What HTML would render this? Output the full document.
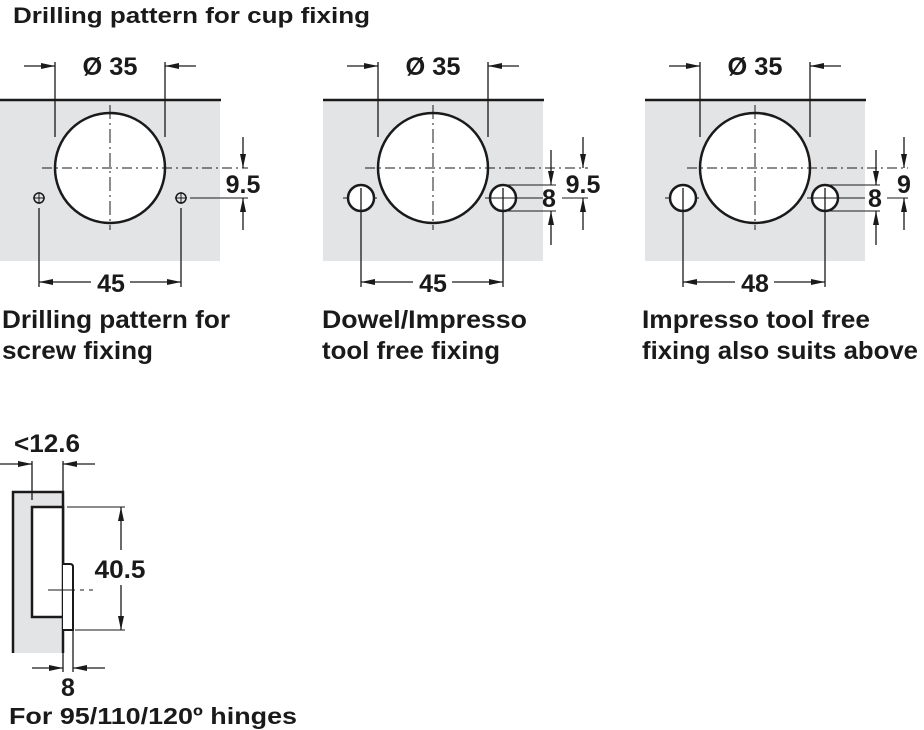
<!DOCTYPE html>
<html><head><meta charset="utf-8"><style>
html,body{margin:0;padding:0;background:#fff}
svg{display:block}
text{font-family:"Liberation Sans",Arial,sans-serif;font-weight:bold;fill:#1a1a1a}
</style></head><body>
<svg width="924" height="730" viewBox="0 0 924 730" xmlns="http://www.w3.org/2000/svg">
<defs>
<marker id="a" viewBox="0 0 14 6" refX="14" refY="3" markerWidth="14" markerHeight="6" markerUnits="userSpaceOnUse" orient="auto"><path d="M0,0 L14,3 L0,6 Z" fill="#1a1a1a"/></marker>
</defs>
<text x="13" y="23" font-size="22" textLength="357" lengthAdjust="spacingAndGlyphs">Drilling pattern for cup fixing</text>

<g stroke="#1a1a1a" fill="none">
<!-- PANEL 1 -->
<rect x="0" y="101" width="220" height="160" fill="#e3e4e6" stroke="none"/>
<line x1="0" y1="100" x2="221" y2="100" stroke-width="2.5"/>
<circle cx="110" cy="168" r="55" fill="#fff" stroke-width="2.5"/>
<line x1="55" y1="62" x2="55" y2="137" stroke-width="1.3"/>
<line x1="165" y1="62" x2="165" y2="137" stroke-width="1.3"/>
<line x1="24" y1="66" x2="55" y2="66" stroke-width="1.3" marker-end="url(#a)"/>
<line x1="196" y1="66" x2="165" y2="66" stroke-width="1.3" marker-end="url(#a)"/>
<line x1="42" y1="168" x2="248" y2="168" stroke-width="1" stroke-dasharray="10,4,2,4"/>
<line x1="110" y1="105" x2="110" y2="230" stroke-width="1" stroke-dasharray="14,4,2,4"/>
<circle cx="39" cy="198" r="5" stroke-width="1.5"/><line x1="33" y1="198" x2="45" y2="198"/><line x1="39" y1="192" x2="39" y2="204"/>
<circle cx="181" cy="198" r="5" stroke-width="1.5"/><line x1="175" y1="198" x2="187" y2="198"/><line x1="181" y1="192" x2="181" y2="204"/>
<line x1="190" y1="198" x2="248" y2="198" stroke-width="1"/>
<line x1="243" y1="137" x2="243" y2="168" stroke-width="1.3" marker-end="url(#a)"/>
<line x1="243" y1="230" x2="243" y2="198" stroke-width="1.3" marker-end="url(#a)"/>
<line x1="39" y1="208" x2="39" y2="287" stroke-width="1.3"/>
<line x1="181" y1="208" x2="181" y2="287" stroke-width="1.3"/>
<line x1="91" y1="282" x2="39" y2="282" stroke-width="1.3" marker-end="url(#a)"/>
<line x1="130" y1="282" x2="181" y2="282" stroke-width="1.3" marker-end="url(#a)"/>

<!-- PANEL 2 -->
<rect x="323" y="101" width="220" height="160" fill="#e3e4e6" stroke="none"/>
<line x1="323" y1="100" x2="544" y2="100" stroke-width="2.5"/>
<circle cx="433" cy="168" r="55" fill="#fff" stroke-width="2.5"/>
<line x1="378" y1="62" x2="378" y2="137" stroke-width="1.3"/>
<line x1="488" y1="62" x2="488" y2="137" stroke-width="1.3"/>
<line x1="347" y1="66" x2="378" y2="66" stroke-width="1.3" marker-end="url(#a)"/>
<line x1="519" y1="66" x2="488" y2="66" stroke-width="1.3" marker-end="url(#a)"/>
<line x1="365" y1="168" x2="588" y2="168" stroke-width="1" stroke-dasharray="10,4,2,4"/>
<line x1="433" y1="105" x2="433" y2="230" stroke-width="1" stroke-dasharray="14,4,2,4"/>
<line x1="343" y1="198" x2="380" y2="198" stroke-width="1" stroke-dasharray="12,4,2,4"/>
<circle cx="361" cy="198" r="13" fill="#fff" stroke-width="2.5"/>
<circle cx="503" cy="198" r="13" fill="#fff" stroke-width="2.5"/>
<line x1="485" y1="198" x2="543" y2="198" stroke-width="1"/>
<line x1="562" y1="198" x2="588" y2="198" stroke-width="1"/>
<line x1="503" y1="185" x2="556" y2="185" stroke-width="1"/>
<line x1="503" y1="211" x2="556" y2="211" stroke-width="1"/>
<line x1="551" y1="150" x2="551" y2="185" stroke-width="1.3" marker-end="url(#a)"/>
<line x1="551" y1="245" x2="551" y2="211" stroke-width="1.3" marker-end="url(#a)"/>
<line x1="583" y1="137" x2="583" y2="168" stroke-width="1.3" marker-end="url(#a)"/>
<line x1="583" y1="230" x2="583" y2="198" stroke-width="1.3" marker-end="url(#a)"/>
<line x1="361" y1="188" x2="361" y2="287" stroke-width="1.3"/>
<line x1="503" y1="188" x2="503" y2="287" stroke-width="1.3"/>
<line x1="413" y1="282" x2="361" y2="282" stroke-width="1.3" marker-end="url(#a)"/>
<line x1="452" y1="282" x2="503" y2="282" stroke-width="1.3" marker-end="url(#a)"/>

<!-- PANEL 3 -->
<rect x="645" y="101" width="220" height="160" fill="#e3e4e6" stroke="none"/>
<line x1="645" y1="100" x2="866" y2="100" stroke-width="2.5"/>
<circle cx="755" cy="168" r="55" fill="#fff" stroke-width="2.5"/>
<line x1="700" y1="62" x2="700" y2="137" stroke-width="1.3"/>
<line x1="810" y1="62" x2="810" y2="137" stroke-width="1.3"/>
<line x1="669" y1="66" x2="700" y2="66" stroke-width="1.3" marker-end="url(#a)"/>
<line x1="841" y1="66" x2="810" y2="66" stroke-width="1.3" marker-end="url(#a)"/>
<line x1="687" y1="168" x2="908" y2="168" stroke-width="1" stroke-dasharray="10,4,2,4"/>
<line x1="755" y1="105" x2="755" y2="230" stroke-width="1" stroke-dasharray="14,4,2,4"/>
<line x1="665" y1="198" x2="702" y2="198" stroke-width="1" stroke-dasharray="12,4,2,4"/>
<circle cx="683" cy="198" r="13" fill="#fff" stroke-width="2.5"/>
<circle cx="825" cy="198" r="13" fill="#fff" stroke-width="2.5"/>
<line x1="807" y1="198" x2="865" y2="198" stroke-width="1"/>
<line x1="887" y1="198" x2="908" y2="198" stroke-width="1"/>
<line x1="825" y1="185" x2="880" y2="185" stroke-width="1"/>
<line x1="825" y1="211" x2="880" y2="211" stroke-width="1"/>
<line x1="876" y1="150" x2="876" y2="185" stroke-width="1.3" marker-end="url(#a)"/>
<line x1="876" y1="245" x2="876" y2="211" stroke-width="1.3" marker-end="url(#a)"/>
<line x1="904" y1="137" x2="904" y2="168" stroke-width="1.3" marker-end="url(#a)"/>
<line x1="904" y1="230" x2="904" y2="198" stroke-width="1.3" marker-end="url(#a)"/>
<line x1="683" y1="188" x2="683" y2="287" stroke-width="1.3"/>
<line x1="825" y1="188" x2="825" y2="287" stroke-width="1.3"/>
<line x1="735" y1="282" x2="683" y2="282" stroke-width="1.3" marker-end="url(#a)"/>
<line x1="774" y1="282" x2="825" y2="282" stroke-width="1.3" marker-end="url(#a)"/>

<!-- BOTTOM -->
<rect x="13" y="492" width="50" height="161" fill="#e3e4e6" stroke="none"/>
<polyline points="13,653 13,492 63,492 63,653" stroke-width="2.5"/>
<rect x="32" y="507" width="31" height="110" fill="#fff" stroke-width="2.5"/>
<path d="M63,564 H70 Q73,564 73,567 V630 H63" fill="#fff" stroke-width="2"/>
<line x1="32" y1="461" x2="32" y2="500" stroke-width="1.3"/>
<line x1="63" y1="461" x2="63" y2="492" stroke-width="1.3"/>
<line x1="0" y1="464" x2="32" y2="464" stroke-width="1.3" marker-end="url(#a)"/>
<line x1="95" y1="464" x2="63" y2="464" stroke-width="1.3" marker-end="url(#a)"/>
<line x1="67" y1="507" x2="125" y2="507" stroke-width="1"/>
<line x1="75" y1="630" x2="125" y2="630" stroke-width="1"/>
<line x1="121" y1="550" x2="121" y2="507" stroke-width="1.3" marker-end="url(#a)"/>
<line x1="121" y1="585" x2="121" y2="630" stroke-width="1.3" marker-end="url(#a)"/>
<line x1="48" y1="590" x2="95" y2="590" stroke-width="1" stroke-dasharray="27,5,4,5,4,5"/>
<line x1="63" y1="653" x2="63" y2="672" stroke-width="1.3"/>
<line x1="73" y1="630" x2="73" y2="672" stroke-width="1.3"/>
<line x1="32" y1="668" x2="63" y2="668" stroke-width="1.3" marker-end="url(#a)"/>
<line x1="105" y1="668" x2="73" y2="668" stroke-width="1.3" marker-end="url(#a)"/>
</g>

<g font-size="25" text-anchor="middle">
<text x="110" y="75" textLength="55" lengthAdjust="spacingAndGlyphs">Ø 35</text>
<text x="433" y="75" textLength="55" lengthAdjust="spacingAndGlyphs">Ø 35</text>
<text x="755" y="75" textLength="55" lengthAdjust="spacingAndGlyphs">Ø 35</text>
<text x="111" y="292">45</text>
<text x="433" y="292">45</text>
<text x="755" y="292">48</text>
<text x="243" y="193">9.5</text>
<text x="583" y="193">9.5</text>
<text x="904" y="193">9</text>
<text x="549" y="207">8</text>
<text x="875" y="207">8</text>
<text x="120" y="578" textLength="51" lengthAdjust="spacingAndGlyphs">40.5</text>
<text x="47" y="452" textLength="66" lengthAdjust="spacingAndGlyphs">&lt;12.6</text>
<text x="68" y="696">8</text>
</g>
<g font-size="25">
<text x="2" y="328" textLength="228" lengthAdjust="spacingAndGlyphs">Drilling pattern for</text>
<text x="2" y="359" textLength="151" lengthAdjust="spacingAndGlyphs">screw fixing</text>
<text x="322" y="328" textLength="205" lengthAdjust="spacingAndGlyphs">Dowel/Impresso</text>
<text x="322" y="359" textLength="178" lengthAdjust="spacingAndGlyphs">tool free fixing</text>
<text x="642" y="328" textLength="228" lengthAdjust="spacingAndGlyphs">Impresso tool free</text>
<text x="642" y="359" textLength="276" lengthAdjust="spacingAndGlyphs">fixing also suits above</text>
<text x="9" y="724" font-size="23" textLength="288" lengthAdjust="spacingAndGlyphs">For 95/110/120º hinges</text>
</g>
</svg>
</body></html>
